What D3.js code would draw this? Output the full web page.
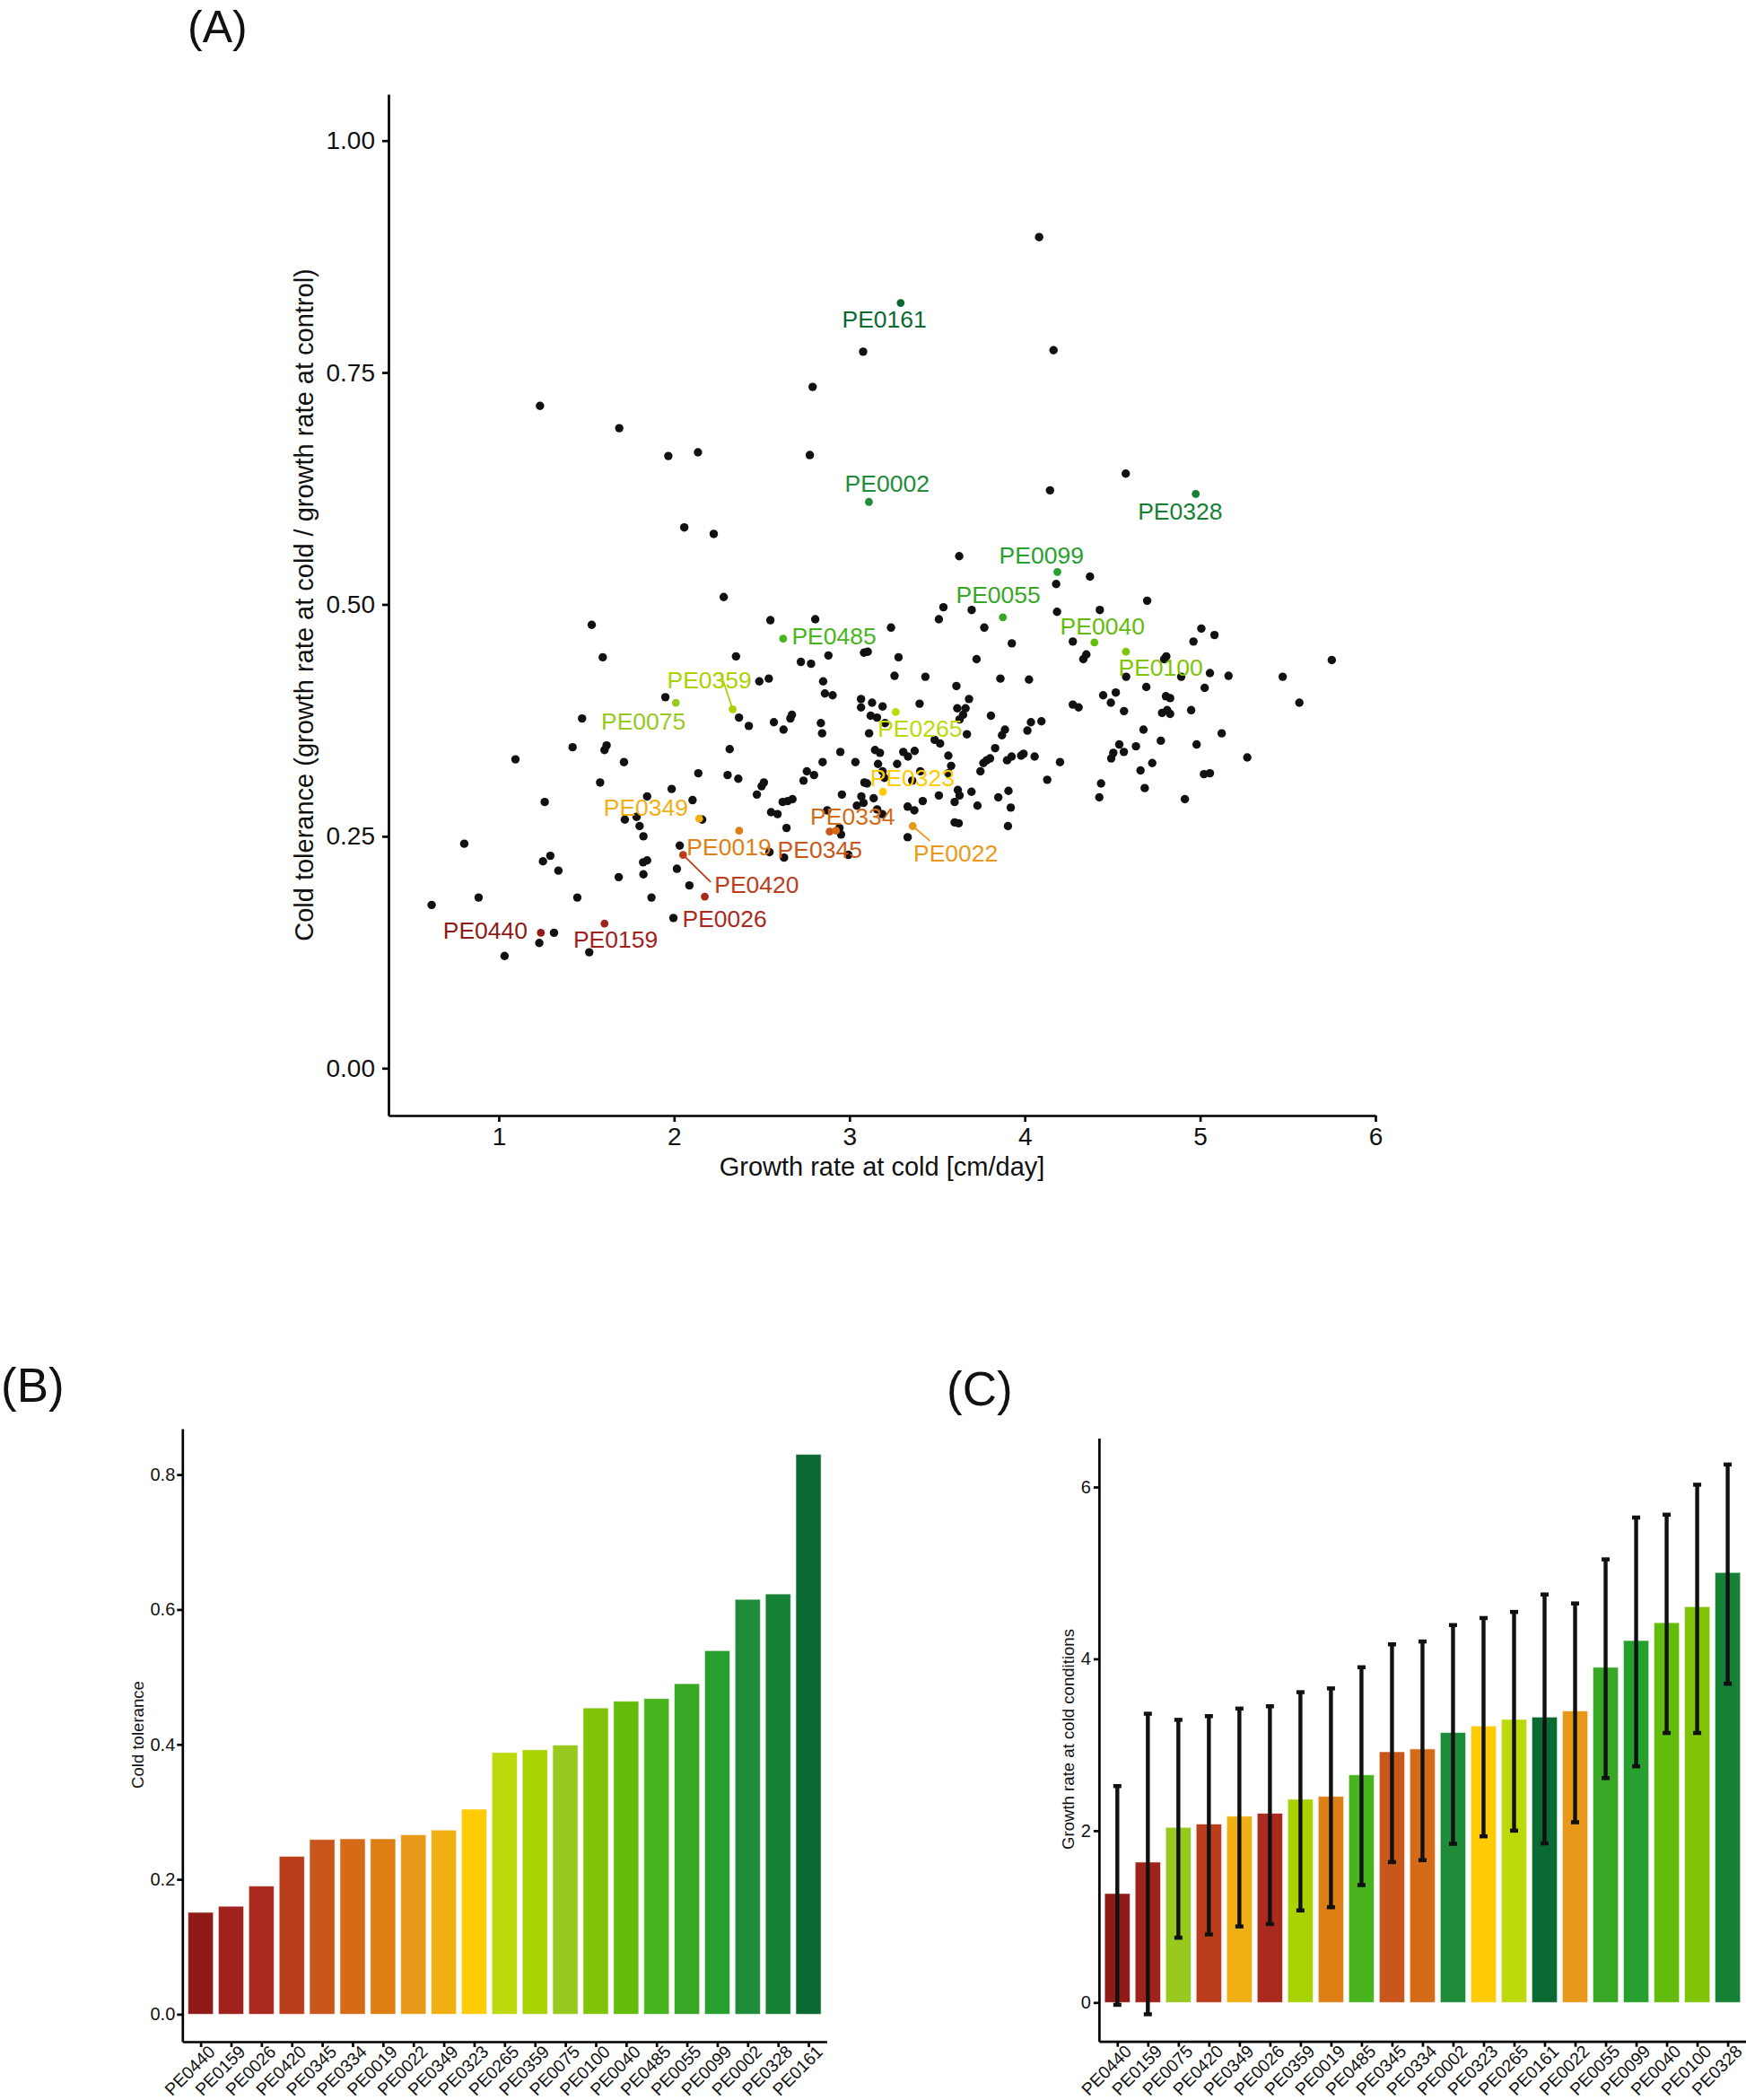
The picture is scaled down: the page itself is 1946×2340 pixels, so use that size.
<!DOCTYPE html>
<html><head><meta charset="utf-8">
<script src="https://cdn.jsdelivr.net/npm/d3@7"></script>
<style>
body{margin:0;background:#fff}
svg{display:block}
text{font-family:"Liberation Sans",Arial,sans-serif;fill:#111}
</style>
</head><body>
<svg id="chart" width="1946" height="2340"></svg>
<script>
// ---------------- DATA ----------------
// Panel A: all lines (black points): growth rate at cold (x) and cold tolerance (y)
const otherGrowth = [4.082,3.078,4.164,2.790,1.235,1.687,1.967,2.136,2.774,4.576,4.144,2.058,2.226,
2.283,1.530,1.593,1.950,1.475,1.421,1.615,1.603,1.095,1.714,
3.626,2.549,2.805,3.237,3.536,3.510,3.697,3.769,3.926,2.353,2.723,2.781,2.880,3.083,3.104,3.280,3.725,
2.486,2.540,2.850,3.257,3.433,3.861,4.024,3.610,2.860,2.904,2.370,2.426,2.569,2.624,2.663,2.672,2.837,2.844,
3.066,3.066,3.129,3.189,3.400,3.121,3.157,3.203,3.112,3.615,3.662,3.648,3.682,3.628,3.807,3.670,3.887,3.870,
4.015,4.035,2.317,2.948,3.146,3.174,3.307,3.334,3.372,3.486,3.517,3.564,3.831,
2.366,2.472,2.499,2.512,2.553,2.590,2.619,2.648,2.675,2.641,2.738,2.757,2.798,2.847,2.957,3.034,3.085,3.100,
3.068,3.080,3.042,3.138,3.163,3.189,3.199,3.158,3.187,3.272,3.332,3.370,3.418,3.404,3.358,3.510,3.580,3.564,
3.600,3.618,3.628,3.600,3.623,3.696,3.730,3.747,3.764,3.783,3.802,3.849,3.907,3.920,3.904,3.899,3.925,3.979,
2.943,2.952,2.873,2.544,2.627,2.994,3.332,
4.179,4.372,4.698,4.184,4.428,4.274,4.351,4.334,5.007,5.082,4.962,4.807,4.795,5.751,4.578,4.892,5.056,5.162,
5.471,4.693,5.026,4.447,4.519,4.491,4.274,4.307,4.566,4.805,4.829,4.783,4.812,4.829,4.949,5.566,4.095,4.677,
5.123,4.776,4.980,4.539,4.565,4.634,4.505,4.493,3.993,4.056,4.201,4.727,5.269,
4.128,4.435,4.425,4.660,4.684,4.913,5.022,5.056,
1.578,2.138,2.305,1.262,1.846,1.986,2.105,1.719,1.786,1.803,1.825,2.160,0.803,2.032,1.294,1.252,1.340,1.823,
1.846,1.825,1.684,2.016,2.087,0.617,0.885,1.448,1.871,1.996,1.315,1.231,1.033,1.516];
const otherTolerance = [0.896,0.7725,0.774,0.7345,0.714,0.690,0.660,0.664,0.661,0.641,0.623,0.583,0.576,
0.508,0.478,0.443,0.400,0.377,0.346,0.348,0.343,0.333,0.330,
0.552,0.483,0.484,0.475,0.497,0.484,0.494,0.475,0.458,0.444,0.438,0.436,0.445,0.448,0.449,0.443,0.441,
0.417,0.420,0.417,0.423,0.422,0.420,0.419,0.412,0.404,0.402,0.378,0.369,0.373,0.365,0.377,0.381,0.372,0.361,
0.398,0.389,0.394,0.390,0.393,0.380,0.378,0.372,0.361,0.388,0.388,0.381,0.398,0.376,0.380,0.360,0.365,0.359,
0.364,0.373,0.344,0.341,0.343,0.340,0.341,0.336,0.342,0.354,0.350,0.337,0.345,
0.312,0.295,0.304,0.308,0.276,0.274,0.287,0.288,0.290,0.259,0.310,0.320,0.316,0.330,0.295,0.330,0.308,0.307,
0.293,0.286,0.283,0.291,0.328,0.320,0.313,0.279,0.274,0.328,0.282,0.278,0.288,0.320,0.310,0.294,0.326,0.318,
0.287,0.300,0.294,0.265,0.264,0.298,0.283,0.320,0.329,0.332,0.334,0.292,0.299,0.281,0.261,0.332,0.336,0.337,
0.259,0.252,0.278,0.233,0.227,0.230,0.249,
0.522,0.530,0.504,0.492,0.494,0.460,0.446,0.441,0.474,0.467,0.460,0.444,0.441,0.440,0.422,0.422,0.426,0.423,
0.422,0.411,0.410,0.402,0.405,0.394,0.392,0.389,0.385,0.401,0.399,0.383,0.386,0.382,0.386,0.394,0.374,0.365,
0.361,0.353,0.349,0.349,0.341,0.347,0.340,0.334,0.339,0.336,0.330,0.329,0.335,
0.311,0.307,0.292,0.321,0.302,0.290,0.317,0.318,
0.308,0.318,0.316,0.287,0.293,0.301,0.289,0.268,0.271,0.261,0.250,0.268,0.242,0.240,0.229,0.223,0.213,0.222,
0.224,0.209,0.206,0.215,0.197,0.176,0.184,0.184,0.184,0.162,0.146,0.135,0.121,0.125];

// Selected genotypes, ordered by cold tolerance (panel B order)
const genotypes = ["PE0440","PE0159","PE0026","PE0420","PE0345","PE0334","PE0019","PE0022","PE0349","PE0323",
  "PE0265","PE0359","PE0075","PE0100","PE0040","PE0485","PE0055","PE0099","PE0002","PE0328","PE0161"];
const coldTolerance = [0.151,0.160,0.190,0.234,0.259,0.260,0.260,0.266,0.273,0.304,
  0.388,0.392,0.399,0.454,0.464,0.468,0.490,0.539,0.615,0.623,0.830];
const genotypeColors = ["#8E1B17","#A1221C","#AA2A1F","#BC3D1B","#C9561B","#D56B17","#DD7F15","#E8991A","#F0B014","#FECB05",
  "#BDD80B","#A9D203","#98C91F","#7FC406","#63BC0C","#48B41E","#37A725","#28A02F","#1E8C38","#168035","#0A6A31"];

// Selected genotypes as plotted in panel A (same order as genotypes)
const selGrowth    = [1.240,1.603,2.175,2.051,2.887,2.923,2.371,3.361,2.143,3.191,
  3.264,2.334,2.010,4.577,4.397,2.622,3.875,4.186,3.111,4.975,3.292];
const selTolerance = [0.146,0.156,0.185,0.230,0.255,0.256,0.256,0.261,0.269,0.298,
  0.384,0.387,0.394,0.449,0.459,0.463,0.486,0.535,0.6105,0.619,0.825];
// repelled label positions (data units) and the segments that some of them have
const labelGrowth    = [0.923,1.666,2.288,2.471,2.831,3.018,2.313,3.606,1.839,3.359,
  3.402,2.201,1.825,4.775,4.443,2.912,3.849,4.095,3.215,4.886,3.199];
const labelTolerance = [0.1488,0.1394,0.1617,0.1978,0.2355,0.2713,0.2384,0.2320,0.2810,0.3130,
  0.3664,0.4184,0.3743,0.4327,0.4772,0.4659,0.5102,0.5528,0.6302,0.6006,0.8077];
const segmentGenotypes = ["PE0359","PE0420","PE0022"];
const segmentEndGrowth = [2.268,2.209,3.459];
const segmentEndTolerance = [0.4240,0.2007,0.2452];

// Panel C: growth rate at cold conditions (mean, upper, lower)
const growthOrder = ["PE0440","PE0159","PE0075","PE0420","PE0349","PE0026","PE0359","PE0019","PE0485","PE0345","PE0334",
  "PE0002","PE0323","PE0265","PE0161","PE0022","PE0055","PE0099","PE0040","PE0100","PE0328"];
const growthMean  = [1.268,1.634,2.038,2.077,2.169,2.202,2.366,2.399,2.650,2.918,2.951,3.142,3.219,3.295,3.322,3.393,3.902,4.213,4.421,4.607,5.005];
const growthUpper = [2.519,3.361,3.290,3.333,3.421,3.448,3.612,3.656,3.902,4.169,4.202,4.393,4.475,4.546,4.749,4.645,5.158,5.645,5.678,6.027,6.262];
const growthLower = [-0.027,-0.137,0.754,0.792,0.885,0.913,1.071,1.109,1.366,1.634,1.656,1.847,1.934,2.000,1.852,2.098,2.612,2.749,3.137,3.137,3.710];

const ticksA_y = [0,0.25,0.5,0.75,1];
const ticksA_x = [1,2,3,4,5,6];
const ticksB_y = [0,0.2,0.4,0.6,0.8];
const ticksC_y = [0,2,4,6];

// ---------------- DRAW ----------------
const svg = d3.select("#chart");
const colorOf = d3.scaleOrdinal().domain(genotypes).range(genotypeColors);

function styleAxis(g, lw, fs){
  g.select(".domain").attr("stroke","#000").attr("stroke-width",lw);
  g.selectAll(".tick line").attr("stroke","#000").attr("stroke-width",lw);
  g.selectAll(".tick text").attr("font-size",fs).attr("fill","#111")
    .attr("font-family","'Liberation Sans',Arial,sans-serif");
}

// Panel letters
const letterFont = "'DejaVu Sans',Verdana,sans-serif";
svg.append("text").attr("x",209).attr("y",47).attr("font-size",50).attr("font-family",letterFont).text("(A)");
svg.append("text").attr("x",1).attr("y",1562).attr("font-size",53).attr("font-family",letterFont).text("(B)");
svg.append("text").attr("x",1055).attr("y",1566).attr("font-size",53).attr("font-family",letterFont).text("(C)");

// ===== Panel A =====
const xA = d3.scaleLinear().domain([0.371, 6.0]).range([433, 1533]);
const yA = d3.scaleLinear().domain([-0.051, 1.05]).range([1243, 105]);

const gAy = svg.append("g").attr("transform","translate(433,0)")
  .call(d3.axisLeft(yA).tickValues(ticksA_y).tickFormat(d3.format(".2f")).tickSize(7).tickSizeOuter(0).tickPadding(8));
styleAxis(gAy, 2.7, 28);
const gAx = svg.append("g").attr("transform","translate(0,1243)")
  .call(d3.axisBottom(xA).tickValues(ticksA_x).tickFormat(d3.format("d")).tickSize(7).tickSizeOuter(0).tickPadding(6));
styleAxis(gAx, 2.7, 28);

svg.append("text").attr("x",983).attr("y",1310).attr("text-anchor","middle").attr("font-size",29)
  .text("Growth rate at cold [cm/day]");
svg.append("text").attr("transform","translate(349,674) rotate(-90)").attr("text-anchor","middle").attr("font-size",29)
  .text("Cold tolerance (growth rate at cold / growth rate at control)");

svg.append("g").selectAll("circle").data(otherGrowth.map((g,i)=>[g,otherTolerance[i]])).join("circle")
  .attr("cx",d=>xA(d[0])).attr("cy",d=>yA(d[1])).attr("r",4.7).attr("fill","#111");

// segments
segmentGenotypes.forEach((name,k)=>{
  const i = genotypes.indexOf(name);
  svg.append("line").attr("x1",xA(selGrowth[i])).attr("y1",yA(selTolerance[i]))
    .attr("x2",xA(segmentEndGrowth[k])).attr("y2",yA(segmentEndTolerance[k]))
    .attr("stroke",genotypeColors[i]).attr("stroke-width",1.8);
});

svg.append("g").selectAll("circle").data(genotypes).join("circle")
  .attr("cx",(d,i)=>xA(selGrowth[i])).attr("cy",(d,i)=>yA(selTolerance[i])).attr("r",4.4)
  .attr("fill",d=>colorOf(d));

svg.append("g").selectAll("text").data(genotypes).join("text")
  .attr("x",(d,i)=>xA(labelGrowth[i])).attr("y",(d,i)=>yA(labelTolerance[i]))
  .attr("dy","0.36em").attr("text-anchor","middle").attr("font-size",26.5)
  .style("fill",d=>colorOf(d)).text(d=>d);

// ===== Panel B =====
const xB = d3.scalePoint().domain(genotypes).range([203.3, 921.4]).padding(0.6);
const yB = d3.scaleLinear().domain([-0.0407, 0.868]).range([2275, 1592]);
const bwB = xB.step()*0.83;

svg.append("g").selectAll("rect").data(genotypes).join("rect")
  .attr("x",d=>xB(d)-bwB/2).attr("width",bwB)
  .attr("y",(d,i)=>yB(coldTolerance[i])).attr("height",(d,i)=>yB(0)-yB(coldTolerance[i]))
  .attr("fill",d=>colorOf(d)).attr("stroke","rgba(255,255,255,0.55)").attr("stroke-width",1);

const gBy = svg.append("g").attr("transform","translate(203.3,0)")
  .call(d3.axisLeft(yB).tickValues(ticksB_y).tickFormat(d3.format(".1f")).tickSize(6).tickSizeOuter(0).tickPadding(2));
styleAxis(gBy, 2.7, 20);
const gBx = svg.append("g").attr("transform","translate(0,2275)")
  .call(d3.axisBottom(xB).tickSize(6).tickSizeOuter(0));
styleAxis(gBx, 2.7, 19.5);
gBx.selectAll(".tick text").attr("text-anchor","end").attr("x",3).attr("y",7).attr("dy","0.7em")
  .attr("transform","rotate(-45)");
svg.append("text").attr("transform","translate(160,1933) rotate(-90)").attr("text-anchor","middle").attr("font-size",18.6)
  .text("Cold tolerance");

// ===== Panel C =====
const xC = d3.scalePoint().domain(growthOrder).range([1224.9, 1946]).padding(0.6);
const yC = d3.scaleLinear().domain([-0.453, 6.568]).range([2274.7, 1602.6]);
const bwC = xC.step()*0.83;

svg.append("g").selectAll("rect").data(growthOrder).join("rect")
  .attr("x",d=>xC(d)-bwC/2).attr("width",bwC)
  .attr("y",(d,i)=>yC(growthMean[i])).attr("height",(d,i)=>yC(0)-yC(growthMean[i]))
  .attr("fill",d=>colorOf(d)).attr("stroke","rgba(255,255,255,0.55)").attr("stroke-width",1);

const eb = svg.append("g");
growthOrder.forEach((d,i)=>{
  const x = xC(d);
  eb.append("line").attr("x1",x).attr("x2",x).attr("y1",yC(growthUpper[i])).attr("y2",yC(growthLower[i]))
    .attr("stroke","#111").attr("stroke-width",4.4);
  [growthUpper[i],growthLower[i]].forEach(v=>{
    eb.append("line").attr("x1",x-4.5).attr("x2",x+4.5).attr("y1",yC(v)).attr("y2",yC(v))
      .attr("stroke","#111").attr("stroke-width",4.5);
  });
});

const gCy = svg.append("g").attr("transform","translate(1224.9,0)")
  .call(d3.axisLeft(yC).tickValues(ticksC_y).tickFormat(d3.format("d")).tickSize(6).tickSizeOuter(0).tickPadding(3));
styleAxis(gCy, 2.7, 20);
const gCx = svg.append("g").attr("transform","translate(0,2274.7)")
  .call(d3.axisBottom(xC).tickSize(6).tickSizeOuter(0));
styleAxis(gCx, 2.7, 19.5);
gCx.selectAll(".tick text").attr("text-anchor","end").attr("x",3).attr("y",7).attr("dy","0.7em")
  .attr("transform","rotate(-45)");
svg.append("text").attr("transform","translate(1197,1938) rotate(-90)").attr("text-anchor","middle").attr("font-size",18.6)
  .text("Growth rate at cold conditions");
</script>
</body></html>
